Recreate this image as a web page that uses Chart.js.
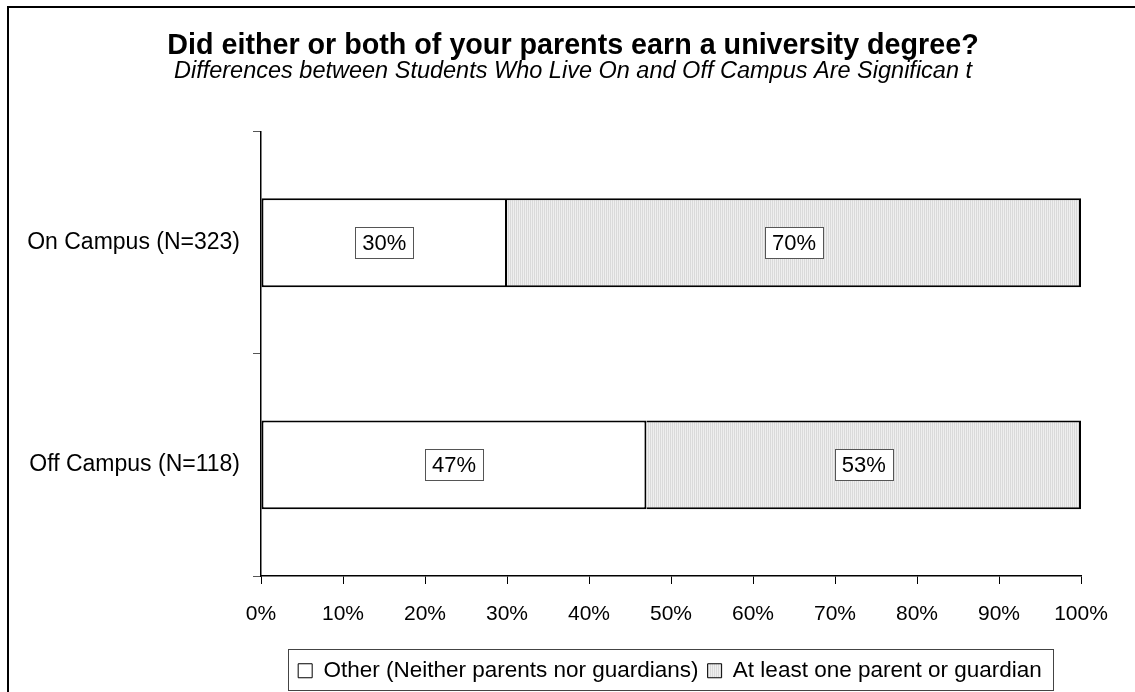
<!DOCTYPE html>
<html>
<head>
<meta charset="utf-8">
<script src="https://cdn.jsdelivr.net/npm/chart.js@4.4.0/dist/chart.umd.min.js"></script>
<style>
  html, body { margin: 0; padding: 0; background: #fff; }
  #wrap { width: 1135px; height: 692px; }
</style>
</head>
<body>
<div id="wrap"><canvas id="c" width="1135" height="692"></canvas></div>
<script>
const categories = ['On Campus (N=323)', 'Off Campus (N=118)'];
const seriesNames = ['Other (Neither parents nor guardians)', 'At least one parent or guardian'];
const otherValues = [30, 47];
const parentValues = [70, 53];
const xTicks = [0, 10, 20, 30, 40, 50, 60, 70, 80, 90, 100];

const FONT = "'Liberation Sans', Arial, sans-serif";

// stippled grey fill like the old Excel pattern
function greyPattern() {
    const p = document.createElement('canvas');
    p.width = 2; p.height = 2;
    const g = p.getContext('2d');
    g.fillStyle = '#efefef'; g.fillRect(0, 0, 2, 2);
    g.fillStyle = '#dadada'; g.fillRect(0, 0, 1, 2);
    return g.createPattern(p, 'repeat');
}

// white boxed percent labels in the middle of each segment
const boxLabels = {
    id: 'boxLabels',
    afterDatasetsDraw(chart) {
        const ctx = chart.ctx;
        ctx.save();
        ctx.font = '22px ' + FONT;
        ctx.textAlign = 'center';
        ctx.textBaseline = 'middle';
        chart.data.datasets.forEach((ds, i) => {
            chart.getDatasetMeta(i).data.forEach((bar, j) => {
                const txt = ds.data[j] + '%';
                const cx = (bar.x + bar.base) / 2;
                const w = Math.round(ctx.measureText(txt).width + 14);
                const h = 31;
                const x0 = Math.round(cx - w / 2), y0 = Math.round(bar.y - h / 2);
                ctx.fillStyle = '#fff';
                ctx.fillRect(x0, y0, w, h);
                ctx.strokeStyle = '#555';
                ctx.lineWidth = 1;
                ctx.strokeRect(x0 + 0.5, y0 + 0.5, w, h);
                ctx.fillStyle = '#000';
                ctx.fillText(txt, cx, bar.y + 1);
            });
        });
        ctx.restore();
    }
};

// page frame, titles/legend moved to where Excel had them, box round legend
const frame = {
    id: 'frame',
    afterLayout(chart) {
        const shift = (box, mid, half) => {
            box.left = mid - half;
            box.right = mid + half;
            box.width = half * 2;
        };
        chart.boxes.forEach(b => {
            if (b.options && typeof b.options.text === 'string') shift(b, 573, 560);
        });
        if (chart.legend) shift(chart.legend, 670, 520);
    },
    beforeDraw(chart) {
        const ctx = chart.ctx;
        ctx.save();
        ctx.fillStyle = '#fff';
        ctx.fillRect(0, 0, chart.width, chart.height);
        ctx.restore();
    },
    afterDraw(chart) {
        const ctx = chart.ctx;
        ctx.save();
        ctx.strokeStyle = '#000';
        ctx.lineWidth = 2;
        ctx.beginPath();
        ctx.moveTo(8, chart.height);
        ctx.lineTo(8, 7);
        ctx.lineTo(chart.width, 7);
        ctx.stroke();
        const lg = chart.legend;
        if (lg) {
            const w = lg.lineWidths[0] + 12;
            const l = (lg.left + lg.right) / 2 - w / 2;
            ctx.lineWidth = 1;
            ctx.strokeStyle = '#444';
            ctx.strokeRect(Math.round(l) + 0.5, Math.round(lg.top) - 1.5, Math.round(w), chart.height - Math.round(lg.top));
        }
        ctx.restore();
    }
};

const pat = greyPattern();

new Chart(document.getElementById('c'), {
    type: 'bar',
    data: {
        labels: categories,
        datasets: [
            { label: seriesNames[0], data: otherValues, backgroundColor: '#fff',
              borderColor: '#000', borderWidth: 2, borderSkipped: false,
              barPercentage: 0.4, categoryPercentage: 1 },
            { label: seriesNames[1], data: parentValues, backgroundColor: pat,
              borderColor: '#000', borderWidth: 2, borderSkipped: 'start',
              barPercentage: 0.4, categoryPercentage: 1 }
        ]
    },
    options: {
        indexAxis: 'y',
        responsive: false,
        animation: false,
        layout: { padding: { left: 0, right: 54, top: 0, bottom: 0 } },
        scales: {
            x: {
                stacked: true, min: 0, max: 100,
                afterBuildTicks: (s) => { s.ticks = xTicks.map(v => ({ value: v })); },
                afterFit: (s) => { s.height = 74.5; },
                ticks: { callback: v => v + '%', color: '#000', padding: 18,
                         maxRotation: 0, font: { family: FONT, size: 21 } },
                grid: { drawOnChartArea: false, tickLength: 8, color: '#000' },
                border: { color: '#000', width: 1.5 }
            },
            y: {
                stacked: true,
                afterFit: (s) => { s.width = 261; },
                ticks: { color: '#000', padding: 13, font: { family: FONT, size: 23 } },
                grid: { drawOnChartArea: false, tickLength: 8, color: '#555', offset: true },
                border: { color: '#000', width: 1.5 }
            }
        },
        plugins: {
            title: {
                display: true,
                text: 'Did either or both of your parents earn a university degree?',
                color: '#000',
                font: { family: FONT, size: 28.7, weight: 'bold', lineHeight: 1 },
                padding: { top: 31.5, bottom: 0 }
            },
            subtitle: {
                display: true,
                text: 'Differences between Students Who Live On and Off Campus Are Significan t',
                color: '#000',
                font: { family: FONT, size: 23.5, style: 'italic', lineHeight: 1 },
                padding: { top: 0, bottom: 48 }
            },
            legend: {
                position: 'bottom',
                labels: {
                    color: '#000',
                    boxWidth: 14, boxHeight: 14, padding: 9,
                    font: { family: FONT, size: 22.5 },
                    generateLabels(chart) {
                        return chart.data.datasets.map((ds, i) => ({
                            text: ds.label, fillStyle: ds.backgroundColor,
                            strokeStyle: '#000', lineWidth: 1, datasetIndex: i,
                            hidden: false, fontColor: '#000'
                        }));
                    }
                }
            },
            tooltip: { enabled: false }
        }
    },
    plugins: [frame, boxLabels]
});
</script>
</body>
</html>
